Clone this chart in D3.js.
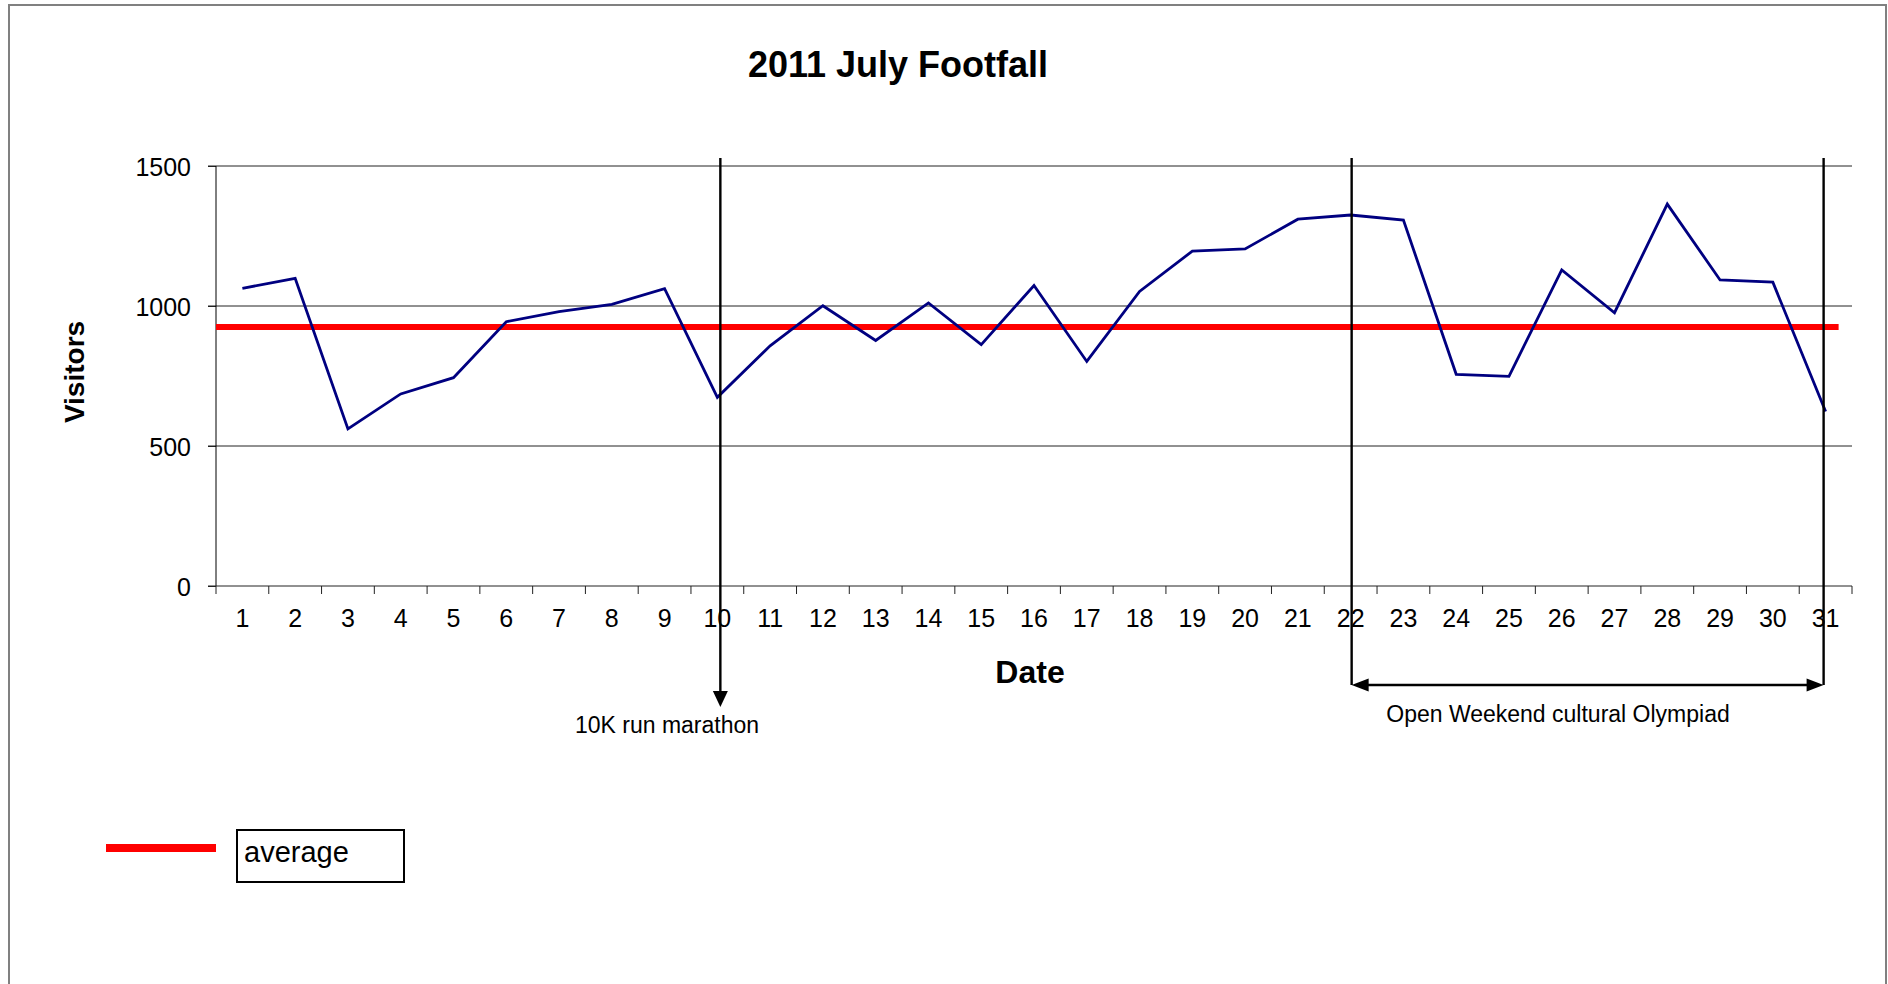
<!DOCTYPE html>
<meta charset="utf-8">
<style>
body,html{
  margin: 0;
  padding: 0;
  background: #fff;
}
svg{
  display: block;
}
text{
  font-family: "Liberation Sans", Arial, sans-serif;
  fill: #000;
}
.axis path{ display: none; }
.grid line{
  stroke: #222;
  stroke-width: 1;
}
</style>
<svg width="1888" height="984"></svg>
<script src="https://d3js.org/d3.v7.min.js"></script>
<script>

// data
var days = d3.range(1, 32)
var visitors = [1063, 1099, 561, 686, 744, 944, 980, 1006, 1062, 674,
                858, 1001, 877, 1011, 862, 1073, 802, 1052, 1196, 1204,
                1310, 1325, 1307, 756, 749, 1129, 976, 1364, 1093, 1085, 623]
var average = 925
var yTicks = [0, 500, 1000, 1500]
var marathonDay = 10
var olympiadDays = [22, 31]

var svg = d3.select("svg")

// outer frame
svg.append("rect")
    .attr("x", 9).attr("y", 5)
    .attr("width", 1877).attr("height", 1010)
    .attr("fill", "none")
    .attr("stroke", "#808080")
    .attr("stroke-width", 2)

var x = d3.scaleBand().domain(days).range([216, 1852]).padding(0)
var y = d3.scaleLinear().domain([0, 1500]).range([586, 166])
var bw = x.bandwidth()
var cx = function(d) { return x(d) + bw / 2 }

// gridlines
svg.append("g")
    .attr("class", "grid")
  .selectAll("line")
  .data(yTicks.filter(d => d > 0))
  .enter().append("line")
    .attr("x1", 208).attr("x2", 1852)
    .attr("y1", d => y(d)).attr("y2", d => y(d))

// y axis
var yAxis = svg.append("g")
    .attr("class", "axis")
    .attr("transform", "translate(216,0)")
    .call(d3.axisLeft(y).tickValues(yTicks).tickFormat(d3.format("d")).tickSize(8).tickPadding(17))
yAxis.selectAll("line").attr("stroke", "#222")
yAxis.selectAll("text").attr("font-size", 25).attr("dy", "0.36em")
yAxis.append("line")
    .attr("y1", y(0)).attr("y2", y(1500))
    .attr("stroke", "#000")

// x axis: labels at centres, ticks between categories
var xAxis = svg.append("g")
    .attr("class", "axis")
    .attr("transform", "translate(0," + y(0) + ")")
    .call(d3.axisBottom(x).tickSize(8))
xAxis.selectAll(".tick line")
    .attr("x1", -bw / 2).attr("x2", -bw / 2)
    .attr("stroke", "#222")
xAxis.selectAll("text")
    .attr("font-size", 25)
    .attr("y", 41).attr("dy", 0)
xAxis.append("line")
    .attr("x1", x.range()[1]).attr("x2", x.range()[1])
    .attr("y1", 0).attr("y2", 8)
    .attr("stroke", "#222")
xAxis.append("line")
    .attr("x1", 208).attr("x2", x.range()[1])
    .attr("stroke", "#222")

// average line
svg.append("line")
    .attr("x1", x.range()[0]).attr("x2", cx(31) + 13)
    .attr("y1", y(average)).attr("y2", y(average))
    .attr("stroke", "#ff0000")
    .attr("stroke-width", 6)

// visitors line
var line = d3.line()
    .x((d, i) => cx(days[i]))
    .y(d => y(d))

svg.append("path")
    .datum(visitors)
    .attr("d", line)
    .attr("fill", "none")
    .attr("stroke", "#000080")
    .attr("stroke-width", 2.8)
    .attr("stroke-linejoin", "miter")

// annotations
var ann = svg.append("g").attr("stroke", "#000").attr("stroke-width", 2.4)

var mx = cx(marathonDay) + 3
ann.append("line")
    .attr("x1", mx).attr("x2", mx)
    .attr("y1", 158).attr("y2", 693)
ann.append("path")
    .attr("d", "M" + (mx - 7.5) + ",691L" + (mx + 7.5) + ",691L" + mx + ",707Z")
    .attr("stroke", "none").attr("fill", "#000")

var oa = cx(olympiadDays[0]) + 1, ob = cx(olympiadDays[1]) - 2, oy = 685
ann.selectAll(".ev")
  .data([oa, ob])
  .enter().append("line")
    .attr("x1", d => d).attr("x2", d => d)
    .attr("y1", 158).attr("y2", oy)
ann.append("line")
    .attr("x1", oa + 10).attr("x2", ob - 10)
    .attr("y1", oy).attr("y2", oy)
ann.append("path")
    .attr("d", "M" + oa + "," + oy + "L" + (oa + 17) + "," + (oy - 6.5) + "L" + (oa + 17) + "," + (oy + 6.5) + "Z" +
               "M" + ob + "," + oy + "L" + (ob - 17) + "," + (oy - 6.5) + "L" + (ob - 17) + "," + (oy + 6.5) + "Z")
    .attr("stroke", "none").attr("fill", "#000")

svg.append("text")
    .attr("x", 667).attr("y", 733)
    .attr("text-anchor", "middle")
    .attr("font-size", 23)
    .text("10K run marathon")

svg.append("text")
    .attr("x", 1558).attr("y", 722)
    .attr("text-anchor", "middle")
    .attr("font-size", 23)
    .text("Open Weekend cultural Olympiad")

// titles
svg.append("text")
    .attr("x", 898).attr("y", 77)
    .attr("text-anchor", "middle")
    .attr("font-size", 36)
    .attr("font-weight", "bold")
    .text("2011 July Footfall")

svg.append("text")
    .attr("x", 1030).attr("y", 683)
    .attr("text-anchor", "middle")
    .attr("font-size", 32)
    .attr("font-weight", "bold")
    .text("Date")

svg.append("text")
    .attr("transform", "translate(84,372) rotate(-90)")
    .attr("text-anchor", "middle")
    .attr("font-size", 28)
    .attr("font-weight", "bold")
    .text("Visitors")

// legend
svg.append("line")
    .attr("x1", 106).attr("x2", 216)
    .attr("y1", 848).attr("y2", 848)
    .attr("stroke", "#ff0000")
    .attr("stroke-width", 8)
svg.append("rect")
    .attr("x", 237).attr("y", 830)
    .attr("width", 167).attr("height", 52)
    .attr("fill", "none")
    .attr("stroke", "#000")
    .attr("stroke-width", 2)
svg.append("text")
    .attr("x", 244).attr("y", 862)
    .attr("font-size", 29)
    .text("average")

</script>
